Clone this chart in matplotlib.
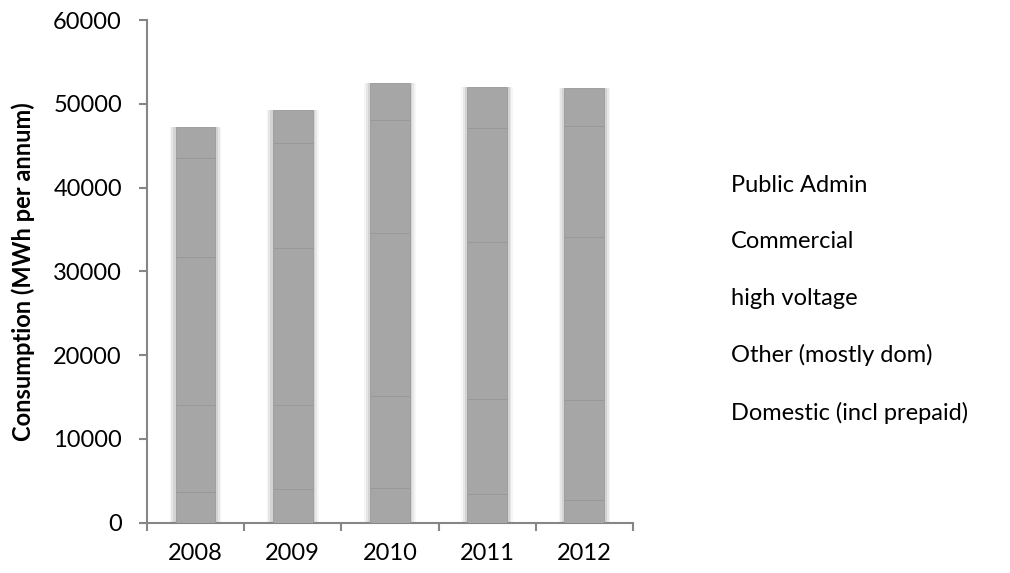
import matplotlib
matplotlib.use('Agg')
import matplotlib.pyplot as plt
import numpy as np

plt.rcParams['font.family'] = ['Lato', 'DejaVu Sans']

# annual consumption by customer group (MWh)
years = ['2008', '2009', '2010', '2011', '2012']
domestic = [3700, 3950, 4100, 3400, 2700]
other_dom = [10350, 10100, 11000, 11300, 11950]
high_voltage = [17700, 18700, 19450, 18800, 19500]
commercial = [11750, 12600, 13500, 13650, 13200]
public_admin = [3750, 3900, 4450, 4850, 4500]

series = [
    ('Domestic (incl prepaid)', domestic),
    ('Other (mostly dom)', other_dom),
    ('high voltage', high_voltage),
    ('Commercial', commercial),
    ('Public Admin', public_admin),
]

fs = 17

fig = plt.figure(figsize=(10.1, 5.73), dpi=100)
ax = fig.add_axes([0.1455, 0.088, 0.4812, 0.877])

x = np.arange(len(years))
grey = '#a6a6a6'
handles = []
bottom = np.zeros(len(years))
for label, vals in series:
    vals = np.array(vals)
    # soft halo around the bars, like the blurred original
    for w, a in [(0.53, 0.15), (0.50, 0.3), (0.46, 0.5)]:
        ax.bar(x, vals, w, bottom=bottom, color='#c4c4c4', alpha=a,
               linewidth=0, zorder=2)
    b = ax.bar(x, vals, 0.41, bottom=bottom, color=grey,
               edgecolor='#959595', linewidth=0.5, label=label, zorder=3)
    handles.append(b)
    bottom += vals

ax.set_xlim(-0.5, len(years) - 0.5)
ax.set_ylim(0, 60000)
ax.set_yticks(np.arange(0, 60001, 10000))
ax.set_yticklabels([str(v) for v in range(0, 60001, 10000)], fontsize=fs)
ax.set_xticks(x)
ax.set_xticklabels(years, fontsize=fs)
ax.set_xticks(np.arange(-0.5, len(years)), minor=True)

ax.spines['top'].set_visible(False)
ax.spines['right'].set_visible(False)
for s in ['left', 'bottom']:
    ax.spines[s].set_color('#868686')
    ax.spines[s].set_linewidth(1.5)
ax.tick_params(axis='y', length=6, width=1.5, color='#868686', pad=12)
ax.tick_params(axis='x', which='major', length=0, pad=15)
ax.tick_params(axis='x', which='minor', length=6, width=1.5, color='#868686')

ax.set_ylabel('Consumption (MWh per annum)', fontsize=fs, fontweight='bold',
              labelpad=13)

leg = fig.legend(handles[::-1], [s[0] for s in series][::-1],
                 loc='center left', bbox_to_anchor=(0.712, 0.478),
                 frameon=False, fontsize=fs, handlelength=0, handletextpad=0,
                 labelspacing=1.5, borderpad=0)
for h in leg.legend_handles:
    h.set_visible(False)

fig.savefig('out.png', dpi=100)
